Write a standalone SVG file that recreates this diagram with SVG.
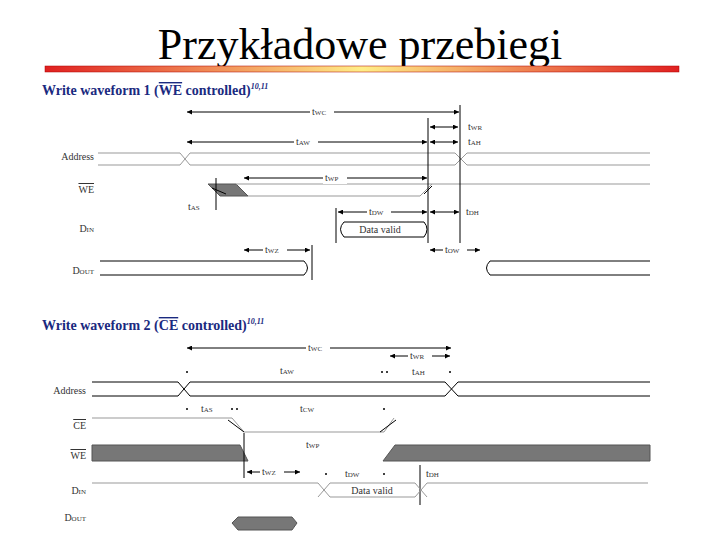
<svg xmlns="http://www.w3.org/2000/svg" width="720" height="540" viewBox="0 0 720 540">
<style>
.t{font-family:"Liberation Serif",serif;font-size:10px;fill:#333}
.l{font-family:"Liberation Serif",serif;font-size:10px;fill:#333;text-anchor:end}
.h{font-family:"Liberation Serif",serif;font-size:14px;font-weight:bold;fill:#1a2a80}
.s{stroke:#000;stroke-width:1;fill:none}
.g{stroke:#999;stroke-width:1;fill:none}
.sh{fill:#777;stroke:#555}
.ov{text-decoration:overline}
</style>
<defs>
<linearGradient id="bar" x1="0" x2="1"><stop offset="0" stop-color="#e02020"/><stop offset="0.5" stop-color="#ffee88"/><stop offset="1" stop-color="#e02020"/></linearGradient>
<marker id="a" viewBox="0 0 6 6" refX="6" refY="3" markerWidth="5" markerHeight="5" orient="auto-start-reverse"><path d="M0,0L6,3L0,6z" fill="#000"/></marker>
</defs>
<rect width="720" height="540" fill="#fff"/>
<text x="360" y="59" text-anchor="middle" font-family="Liberation Serif,serif" font-size="44" fill="#000">Przykładowe przebiegi</text>
<rect x="45" y="66" width="634" height="6" fill="url(#bar)" stroke="#a00" stroke-width="0.5"/>

<g id="wf1">
<text class="h" x="42" y="95">Write waveform 1 (<tspan class="ov">WE</tspan> controlled)<tspan font-size="8" font-style="italic" dy="-6">10,11</tspan></text>
<text class="l" x="94" y="160">Address</text>
<text class="l" x="94" y="193"><tspan class="ov">WE</tspan></text>
<text class="l" x="94" y="232">D<tspan font-size="7">IN</tspan></text>
<text class="l" x="94" y="274">D<tspan font-size="7">OUT</tspan></text>
<path class="g" d="M98,153H180L190,165H455L467,153H650"/>
<path class="g" d="M98,165H180L190,153H455L467,165H650"/>
<polygon class="sh" points="208,184 236,184 248,196 220,196"/>
<path class="g" d="M236,184H650M248,196H420L432,184"/>
<path class="s" d="M216,178V210M212,188L226,194M424,194L432,186"/>
<path class="s" d="M344,222H424Q430,229 424,237H344Q337,229 344,222Z"/>
<text class="t" x="380" y="233" text-anchor="middle">Data valid</text>
<path class="s" d="M100,261H304Q311,268 304,275H100"/>
<path class="s" d="M650,261H490Q483,268 490,275H650"/>
<path class="s" d="M336,208V243M428,118V243M460,105V243M312,245V280"/>
<g class="s" marker-start="url(#a)" marker-end="url(#a)">
<path d="M187,112H459"/><path d="M187,142H427"/><path d="M430,127H458"/><path d="M430,142H458"/>
<path d="M244,178H427"/><path d="M338,212H427"/><path d="M430,212H459"/>
<path d="M244,250H310"/><path d="M430,250H480"/>
</g>
<g fill="#fff"><rect x="310" y="106" width="24" height="12"/><rect x="294" y="136" width="24" height="12"/><rect x="323" y="172" width="24" height="12"/><rect x="367" y="206" width="24" height="12"/><rect x="263" y="244" width="24" height="12"/><rect x="443" y="244" width="24" height="12"/></g>
<text class="t" x="312" y="115">t<tspan font-size="7">WC</tspan></text>
<text class="t" x="296" y="145">t<tspan font-size="7">AW</tspan></text>
<text class="t" x="468" y="130">t<tspan font-size="7">WR</tspan></text>
<text class="t" x="468" y="145">t<tspan font-size="7">AH</tspan></text>
<text class="t" x="325" y="181">t<tspan font-size="7">WP</tspan></text>
<text class="t" x="188" y="210">t<tspan font-size="7">AS</tspan></text>
<text class="t" x="369" y="215">t<tspan font-size="7">DW</tspan></text>
<text class="t" x="466" y="215">t<tspan font-size="7">DH</tspan></text>
<text class="t" x="265" y="253">t<tspan font-size="7">WZ</tspan></text>
<text class="t" x="445" y="253">t<tspan font-size="7">OW</tspan></text>
</g>

<g id="wf2">
<text class="h" x="42" y="330">Write waveform 2 (<tspan class="ov">CE</tspan> controlled)<tspan font-size="8" font-style="italic" dy="-6">10,11</tspan></text>
<text class="l" x="86" y="394">Address</text>
<text class="l" x="86" y="429"><tspan class="ov">CE</tspan></text>
<text class="l" x="86" y="459"><tspan class="ov">WE</tspan></text>
<text class="l" x="86" y="494">D<tspan font-size="7">IN</tspan></text>
<text class="l" x="86" y="521">D<tspan font-size="7">OUT</tspan></text>
<path class="s" d="M92,382H178L190,396H445L458,382H650"/>
<path class="s" d="M92,396H178L190,382H445L458,396H650"/>
<path class="g" d="M92,418H232L244,432H384L394,418"/>
<path class="s" d="M228,420L244,432M380,432L396,420"/>
<polygon class="sh" points="92,445 240,445 248,461 92,461"/>
<polygon class="sh" points="395,445 650,445 650,461 383,461"/>
<path class="s" d="M244,433V478M420,465V505"/>
<path class="g" d="M92,483H318L330,497H415L427,483H648"/>
<path class="g" d="M318,497L330,483H415L427,497"/>
<text class="t" x="372" y="494" text-anchor="middle">Data valid</text>
<polygon class="sh" points="238,517 292,517 297,523 292,530 238,530 232,523"/>
<g class="s" marker-start="url(#a)" marker-end="url(#a)">
<path d="M187,348H451"/><path d="M390,356H450"/><path d="M247,472H300"/>
</g>
<g fill="#fff"><rect x="306" y="342" width="24" height="12"/><rect x="408" y="350" width="24" height="12"/><rect x="260" y="466" width="24" height="12"/></g>
<text class="t" x="308" y="351">t<tspan font-size="7">WC</tspan></text>
<text class="t" x="410" y="359">t<tspan font-size="7">WR</tspan></text>
<text class="t" x="280" y="374">t<tspan font-size="7">AW</tspan></text>
<text class="t" x="412" y="375">t<tspan font-size="7">AH</tspan></text>
<text class="t" x="201" y="412">t<tspan font-size="7">AS</tspan></text>
<text class="t" x="300" y="412">t<tspan font-size="7">CW</tspan></text>
<text class="t" x="306" y="448">t<tspan font-size="7">WP</tspan></text>
<text class="t" x="262" y="475">t<tspan font-size="7">WZ</tspan></text>
<text class="t" x="345" y="477">t<tspan font-size="7">DW</tspan></text>
<text class="t" x="426" y="477">t<tspan font-size="7">DH</tspan></text>
<g fill="#000"><circle cx="187" cy="372" r="1"/><circle cx="382" cy="372" r="1"/><circle cx="387" cy="372" r="1"/><circle cx="450" cy="372" r="1"/><circle cx="187" cy="409" r="1"/><circle cx="232" cy="409" r="1"/><circle cx="237" cy="409" r="1"/><circle cx="384" cy="409" r="1"/><circle cx="326" cy="474" r="1"/><circle cx="384" cy="474" r="1"/></g>
</g>
</svg>
